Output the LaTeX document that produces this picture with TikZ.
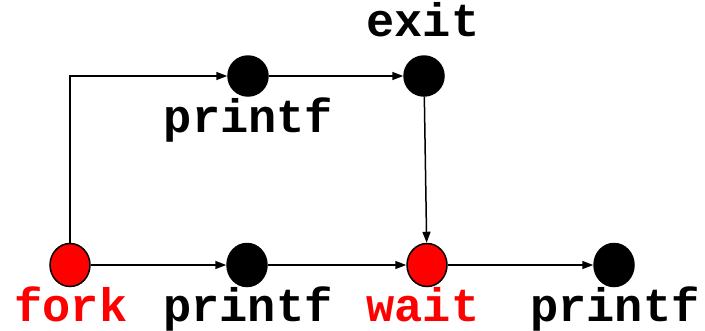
\documentclass[tikz,border=0pt]{standalone}
\usepackage{fontspec}
\setmonofont{Liberation Mono}
\usetikzlibrary{arrows.meta,shapes.geometric}
\definecolor{forkred}{RGB}{255,0,0}
\tikzset{
  event/.style={circle,draw=black,line width=1.5bp,fill=black,minimum size=40bp,inner sep=0pt},
  eventb/.style={ellipse,draw=black,line width=1.5bp,fill=black,minimum width=40bp,minimum height=43bp,inner sep=0pt},
  sys/.style={eventb,fill=forkred},
  flow/.style={line width=1.5bp,-{Triangle[length=11bp,width=8bp]}},
  lbl/.style={anchor=base,inner sep=0pt,font=\ttfamily\bfseries\fontsize{47bp}{47bp}\selectfont},
}
\begin{document}
\begin{tikzpicture}[x=1bp,y=-1bp]
\useasboundingbox (0,0) rectangle (705,330);
% parent process
\node[sys] (fork) at (70,265) {};
\node[eventb] (pb) at (247,265) {};
\node[sys] (wait) at (427,265) {};
\node[eventb] (pr) at (614,265) {};
% child process
\node[event] (pt) at (248,76) {};
\node[event] (exit) at (424,76) {};
% labels
\node[lbl,text=forkred] (lfork) at (71,321) {fork};
\node[lbl] (lpb) at (248,321) {printf};
\node[lbl,text=forkred] (lwait) at (423,321) {wait};
\node[lbl] (lpr) at (615,321) {printf};
\node[lbl] (lpt) at (248.5,132) {printf};
\node[lbl] (lexit) at (423,36) {exit};
% edges
\draw[flow] (fork.north) |- (pt.west);
\draw[flow] (pt) -- (exit);
\draw[flow] (exit) -- (wait);
\draw[flow] (fork) -- (pb);
\draw[flow] (pb) -- (wait);
\draw[flow] (wait) -- (pr);
\end{tikzpicture}
\end{document}
